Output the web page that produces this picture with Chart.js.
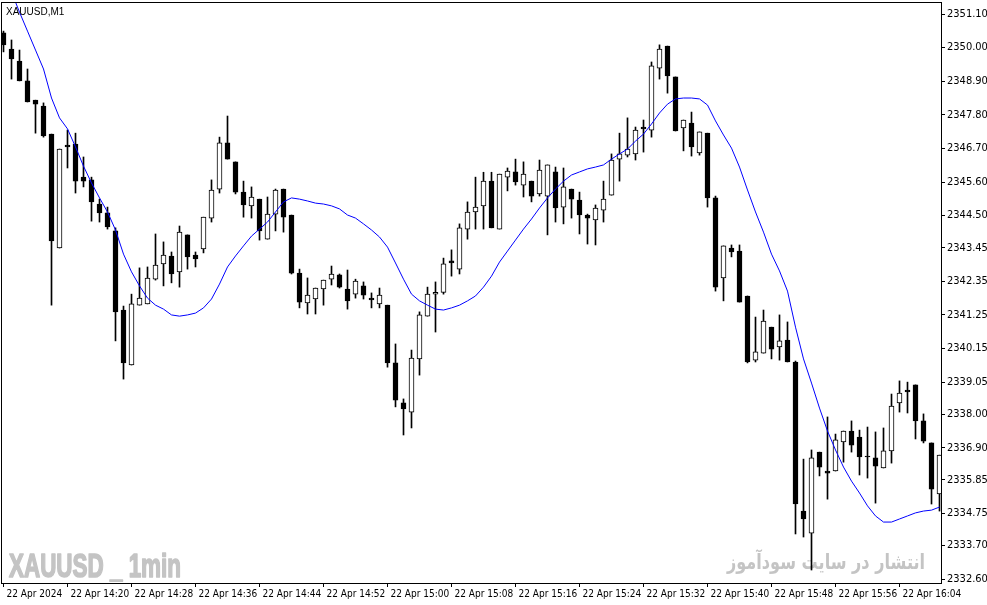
<!DOCTYPE html>
<html>
<head>
<meta charset="utf-8">
<script src="https://cdn.jsdelivr.net/npm/chart.js@4.4.1/dist/chart.umd.min.js"></script>
<style>
  html, body { margin: 0; padding: 0; background: #fff; }
  #wrap { width: 987px; height: 605px; }
</style>
</head>
<body>
<div id="wrap"><canvas id="chart"></canvas></div>
<script>
// XAUUSD M1, 22 Apr 2024 14:12 - 16:09
const symbolLabel = 'XAUUSD,M1';
const timeLabels = ['22 Apr 2024', '22 Apr 14:20', '22 Apr 14:28', '22 Apr 14:36', '22 Apr 14:44',
  '22 Apr 14:52', '22 Apr 15:00', '22 Apr 15:08', '22 Apr 15:16', '22 Apr 15:24', '22 Apr 15:32',
  '22 Apr 15:40', '22 Apr 15:48', '22 Apr 15:56', '22 Apr 16:04'];
const priceTicks = [2351.10, 2350.00, 2348.90, 2347.80, 2346.70, 2345.60, 2344.50, 2343.45, 2342.35,
  2341.25, 2340.15, 2339.05, 2338.00, 2336.90, 2335.85, 2334.75, 2333.70, 2332.60];

const opens = [2350.48, 2349.95, 2349.56, 2348.91, 2348.28, 2348.09, 2347.17, 2343.44, 2346.81, 2346.84,
  2345.76, 2345.67, 2344.88, 2344.59, 2344.00, 2341.41, 2339.61, 2341.57, 2341.61, 2342.42,
  2342.92, 2343.18, 2342.66, 2343.87, 2343.21, 2343.41, 2344.42, 2345.37, 2346.88, 2346.26,
  2345.27, 2344.82, 2345.04, 2343.73, 2344.55, 2345.37, 2344.52, 2342.62, 2341.64, 2341.77,
  2342.10, 2342.42, 2342.56, 2342.10, 2341.93, 2342.20, 2341.80, 2341.61, 2341.57, 2339.68,
  2338.37, 2338.07, 2339.81, 2341.21, 2341.93, 2341.99, 2343.02, 2342.75, 2344.06, 2344.62,
  2344.82, 2345.63, 2344.06, 2345.76, 2345.93, 2345.50, 2345.63, 2345.21, 2345.14, 2345.93,
  2344.78, 2345.37, 2345.01, 2344.52, 2344.36, 2344.68, 2345.17, 2346.35, 2346.48, 2346.52,
  2347.40, 2347.30, 2349.33, 2350.05, 2349.04, 2347.37, 2347.53, 2346.55, 2347.20, 2345.08,
  2342.46, 2343.44, 2343.34, 2341.87, 2339.77, 2340.00, 2340.85, 2340.20, 2340.43, 2339.71,
  2334.83, 2334.11, 2336.76, 2336.14, 2336.14, 2337.09, 2337.45, 2337.25, 2336.63, 2336.57,
  2336.24, 2336.80, 2338.37, 2338.79, 2338.96, 2337.78, 2337.06, 2335.39];
const highs = [2350.54, 2350.25, 2349.92, 2349.30, 2348.28, 2348.19, 2347.17, 2346.68, 2347.30, 2347.20,
  2346.42, 2345.76, 2345.04, 2344.78, 2344.10, 2341.54, 2341.93, 2342.79, 2342.82, 2343.90,
  2343.64, 2343.31, 2344.16, 2343.87, 2343.31, 2344.45, 2345.67, 2347.07, 2347.76, 2346.26,
  2345.63, 2345.44, 2345.04, 2345.11, 2345.37, 2345.37, 2344.52, 2342.75, 2342.46, 2342.13,
  2342.39, 2342.85, 2342.59, 2342.72, 2342.42, 2342.33, 2341.97, 2342.13, 2341.57, 2340.30,
  2338.50, 2340.10, 2341.35, 2342.16, 2342.33, 2343.11, 2343.38, 2344.23, 2344.95, 2345.76,
  2345.92, 2345.92, 2345.86, 2346.06, 2346.35, 2346.26, 2345.63, 2346.32, 2346.16, 2346.09,
  2346.06, 2345.37, 2345.27, 2344.55, 2344.85, 2345.63, 2346.52, 2347.20, 2347.70, 2347.40,
  2347.63, 2349.53, 2350.09, 2350.05, 2349.04, 2347.63, 2347.89, 2347.24, 2347.20, 2345.14,
  2343.51, 2343.54, 2343.54, 2341.87, 2341.18, 2341.41, 2340.85, 2341.25, 2341.02, 2339.74,
  2336.53, 2336.83, 2336.76, 2337.91, 2337.35, 2337.45, 2337.78, 2337.48, 2337.58, 2337.42,
  2337.55, 2338.66, 2339.09, 2339.05, 2338.96, 2338.01, 2337.06, 2336.66];
const lows = [2349.86, 2348.97, 2348.91, 2348.22, 2347.20, 2347.07, 2341.57, 2343.44, 2346.06, 2345.24,
  2345.44, 2344.32, 2344.29, 2344.06, 2340.40, 2339.15, 2339.61, 2341.57, 2341.61, 2342.39,
  2342.20, 2342.30, 2342.16, 2342.75, 2342.82, 2343.28, 2344.29, 2345.24, 2346.35, 2345.21,
  2344.45, 2344.42, 2343.70, 2343.73, 2344.00, 2343.96, 2342.59, 2341.48, 2341.28, 2341.28,
  2341.57, 2342.23, 2342.13, 2341.44, 2341.80, 2341.77, 2341.48, 2341.48, 2339.54, 2338.24,
  2337.32, 2337.55, 2339.28, 2341.21, 2340.69, 2341.93, 2342.52, 2342.59, 2343.73, 2344.06,
  2344.06, 2344.10, 2344.06, 2345.31, 2345.50, 2345.11, 2344.95, 2345.14, 2343.87, 2344.29,
  2344.23, 2344.42, 2343.90, 2343.57, 2343.54, 2344.29, 2345.17, 2345.63, 2346.42, 2346.32,
  2346.58, 2347.07, 2348.97, 2348.51, 2347.27, 2346.62, 2346.45, 2346.48, 2344.78, 2342.03,
  2341.71, 2343.15, 2341.67, 2339.68, 2339.71, 2340.00, 2339.81, 2339.77, 2339.71, 2334.08,
  2333.98, 2332.90, 2335.98, 2335.22, 2336.14, 2336.43, 2336.76, 2336.01, 2335.91, 2335.09,
  2336.24, 2336.40, 2338.07, 2338.04, 2337.19, 2337.06, 2335.06, 2334.83];
const closes = [2350.09, 2349.63, 2348.91, 2348.22, 2348.15, 2347.11, 2343.67, 2346.68, 2346.75, 2345.63,
  2345.63, 2344.95, 2344.59, 2344.13, 2341.35, 2339.68, 2341.61, 2341.80, 2342.46, 2342.88,
  2343.21, 2342.59, 2343.96, 2343.15, 2343.08, 2344.45, 2345.34, 2346.88, 2346.35, 2345.27,
  2344.85, 2345.11, 2344.00, 2344.55, 2345.34, 2344.45, 2342.62, 2341.67, 2341.90, 2342.13,
  2342.39, 2342.59, 2342.16, 2341.71, 2342.36, 2341.90, 2341.74, 2341.90, 2339.68, 2338.46,
  2338.17, 2339.84, 2341.25, 2341.93, 2341.99, 2342.92, 2342.95, 2344.10, 2344.62, 2344.78,
  2345.63, 2344.10, 2345.86, 2345.96, 2345.60, 2345.86, 2345.14, 2345.99, 2346.16, 2344.75,
  2345.44, 2345.04, 2344.52, 2344.42, 2344.75, 2345.04, 2346.32, 2346.52, 2346.68, 2347.30,
  2347.34, 2349.40, 2349.95, 2349.07, 2347.27, 2347.63, 2346.75, 2347.24, 2345.08, 2342.16,
  2343.51, 2343.31, 2341.67, 2339.71, 2340.04, 2341.05, 2340.13, 2340.40, 2339.71, 2335.06,
  2334.57, 2336.57, 2336.27, 2336.07, 2337.16, 2337.45, 2336.99, 2336.60, 2336.60, 2336.30,
  2336.80, 2338.27, 2338.69, 2338.73, 2337.78, 2337.12, 2335.55, 2336.66];
// blue moving average
const ma = [2352.41, 2351.82, 2351.16, 2350.54, 2349.92, 2349.30, 2348.35, 2347.70, 2347.34, 2346.75,
  2346.12, 2345.57, 2345.08, 2344.62, 2344.03, 2343.24, 2342.66, 2342.20, 2341.80, 2341.57,
  2341.44, 2341.25, 2341.21, 2341.25, 2341.31, 2341.48, 2341.77, 2342.26, 2342.82, 2343.18,
  2343.51, 2343.83, 2344.06, 2344.29, 2344.62, 2344.95, 2345.08, 2345.04, 2344.98, 2344.91,
  2344.88, 2344.82, 2344.72, 2344.52, 2344.42, 2344.23, 2344.03, 2343.80, 2343.47, 2342.95,
  2342.42, 2341.93, 2341.71, 2341.57, 2341.44, 2341.41, 2341.48, 2341.57, 2341.71, 2341.87,
  2342.16, 2342.52, 2342.98, 2343.34, 2343.70, 2344.06, 2344.39, 2344.75, 2345.08, 2345.37,
  2345.63, 2345.83, 2345.93, 2346.03, 2346.09, 2346.16, 2346.35, 2346.52, 2346.68, 2346.94,
  2347.17, 2347.50, 2347.86, 2348.15, 2348.32, 2348.35, 2348.35, 2348.32, 2348.12, 2347.60,
  2347.14, 2346.71, 2346.09, 2345.34, 2344.62, 2343.96, 2343.24, 2342.69, 2342.03, 2340.85,
  2339.81, 2339.02, 2338.20, 2337.45, 2336.83, 2336.27, 2335.81, 2335.42, 2335.00, 2334.67,
  2334.47, 2334.47, 2334.57, 2334.67, 2334.77, 2334.83, 2334.86, 2334.96];

const AXIS_FONT = "'Liberation Sans Narrow', 'DejaVu Sans Condensed', 'Liberation Sans', sans-serif";

const bodies = opens.map((o, i) => ({ x: i, y: [o, closes[i]] }));
const wicks = lows.map((l, i) => ({ x: i, y: [l, highs[i]] }));
const maPoints = ma.map((v, i) => ({ x: i, y: v }));
const isUp = (i) => closes[i] >= opens[i];

// frame, symbol name and the two grey watermarks
const frame = {
  id: 'frame',
  beforeDatasetsDraw(chart) {
    const ctx = chart.ctx;
    ctx.save();
    ctx.fillStyle = '#c4c4c4';
    ctx.strokeStyle = '#c4c4c4';
    ctx.lineWidth = 1.6;
    ctx.lineJoin = 'round';
    ctx.textBaseline = 'alphabetic';
    ctx.font = "bold 33px 'Liberation Sans Narrow', 'Liberation Sans', sans-serif";
    ctx.fillText('XAUUSD _ 1min', 9, 577, 172);
    ctx.strokeText('XAUUSD _ 1min', 9, 577, 172);
    ctx.font = "bold 21px 'DejaVu Sans', sans-serif";
    ctx.textAlign = 'right';
    ctx.direction = 'rtl';
    ctx.fillText('انتشار در سایت سودآموز', 925, 569, 198);
    ctx.restore();
  },
  afterDraw(chart) {
    const ctx = chart.ctx;
    const a = chart.chartArea;
    ctx.save();
    ctx.strokeStyle = '#000';
    ctx.lineWidth = 1;
    ctx.strokeRect(a.left + 0.5, a.top + 0.5, a.right - a.left, a.bottom - a.top);
    ctx.fillStyle = '#000';
    ctx.font = "10px 'Liberation Sans', sans-serif";
    ctx.textBaseline = 'alphabetic';
    ctx.fillText(symbolLabel, 6, 15);
    ctx.restore();
  }
};

new Chart(document.getElementById('chart'), {
  type: 'bar',
  data: {
    datasets: [
      {
        type: 'line',
        data: maPoints,
        borderColor: '#0000ff',
        borderWidth: 1,
        pointRadius: 0,
        tension: 0,
        order: 0
      },
      {
        data: bodies,
        grouped: false,
        barThickness: 5,
        backgroundColor: (c) => isUp(c.dataIndex) ? '#ffffff' : '#000000',
        borderColor: '#000000',
        borderWidth: 1,
        borderSkipped: false,
        order: 1
      },
      {
        data: wicks,
        grouped: false,
        barThickness: 1,
        backgroundColor: '#000000',
        borderWidth: 0,
        order: 2
      }
    ]
  },
  options: {
    responsive: true,
    maintainAspectRatio: false,
    animation: false,
    devicePixelRatio: 1,
    layout: { padding: { left: 1, top: 2, right: 0, bottom: 0 } },
    plugins: { legend: { display: false }, tooltip: { enabled: false } },
    scales: {
      x: {
        type: 'linear',
        offset: false,
        min: -0.3125,
        max: 117.1875,
        afterBuildTicks: (s) => { s.ticks = timeLabels.map((_, k) => ({ value: k * 8 })); },
        afterFit: (s) => { s.height = 22; s.paddingLeft = 0; s.paddingRight = 0; },
        grid: { drawOnChartArea: false, drawTicks: true, tickLength: 4, color: '#000', offset: false },
        border: { color: '#000' },
        ticks: {
          autoSkip: false, maxRotation: 0, align: 'start', labelOffset: 3, padding: 1,
          color: '#000', font: { family: AXIS_FONT, size: 10 },
          callback: (v, idx) => timeLabels[idx]
        }
      },
      y: {
        position: 'right',
        min: 2332.475,
        max: 2351.493,
        afterBuildTicks: (s) => { s.ticks = priceTicks.map((v) => ({ value: v })); },
        afterFit: (s) => { s.width = 46; s.paddingTop = 0; s.paddingBottom = 0; },
        grid: { drawOnChartArea: false, drawTicks: true, tickLength: 4, color: '#000' },
        border: { color: '#000' },
        ticks: {
          padding: 2, color: '#000', font: { family: AXIS_FONT, size: 11 },
          callback: (v) => v.toFixed(2)
        }
      }
    }
  },
  plugins: [frame]
});
</script>
</body>
</html>
